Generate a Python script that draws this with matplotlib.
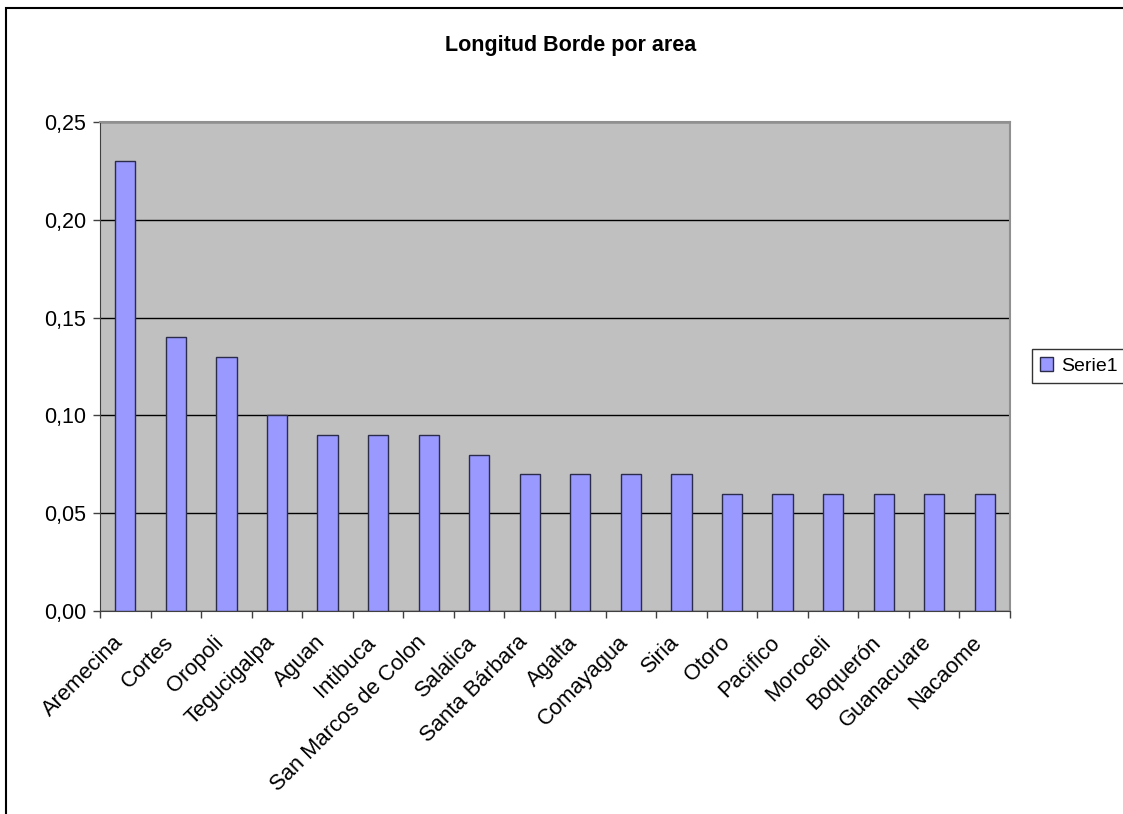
import numpy as np
import matplotlib
matplotlib.use("Agg")
import matplotlib.pyplot as plt
from matplotlib.patches import Rectangle
from matplotlib.transforms import ScaledTranslation

# %% data

areas = ["Aremecina", "Cortes", "Oropoli", "Tegucigalpa", "Aguan", "Intibuca",
         "San Marcos de Colon", "Salalica", "Santa Bárbara", "Agalta", "Comayagua",
         "Siria", "Otoro", "Pacifico", "Moroceli", "Boquerón", "Guanacuare", "Nacaome"]
longitud = [0.23, 0.14, 0.13, 0.10, 0.09, 0.09, 0.09, 0.08, 0.07, 0.07, 0.07,
            0.07, 0.06, 0.06, 0.06, 0.06, 0.06, 0.06]
y_ticks = [0.00, 0.05, 0.10, 0.15, 0.20, 0.25]
y_labels = ["0,00", "0,05", "0,10", "0,15", "0,20", "0,25"]

# %% plot

plt.rcParams['font.family'] = ['Liberation Sans', 'DejaVu Sans']

fig = plt.figure(figsize=(11.23, 8.14), dpi=100)
ax = fig.add_axes([100 / 1123, 1 - 611 / 814, 910 / 1123, 489 / 814])

x = np.arange(len(areas))
ax.bar(x, longitud, width=0.4, color="#9999FF", edgecolor="#2b2b4a",
       linewidth=1.0, label="Serie1", zorder=3)

ax.set_facecolor("#C0C0C0")
ax.set_xlim(-0.5, len(areas) - 0.5)
ax.set_ylim(0, 0.25)

ax.set_yticks(y_ticks)
ax.set_yticklabels(y_labels, fontsize=15.5)
ax.yaxis.grid(True, color="#000000", linewidth=1.0, zorder=1)
ax.set_axisbelow(True)
ax.tick_params(axis="y", length=5, width=1, color="#404040", pad=5)

ax.set_xticks(x)
ax.set_xticklabels(areas, rotation=45, ha="right", rotation_mode="anchor", fontsize=15.8)
ax.set_xticks(np.arange(len(areas) + 1) - 0.5, minor=True)
ax.tick_params(axis="x", which="major", length=0, pad=15)
ax.tick_params(axis="x", which="minor", length=5, width=1, color="#404040")
# nudge the slanted labels left, as in the original
shift = ScaledTranslation(-13 / 100, 0, fig.dpi_scale_trans)
for lab in ax.get_xticklabels():
    lab.set_transform(lab.get_transform() + shift)

for side in ["left", "bottom"]:
    ax.spines[side].set_color("#404040")
for side in ["top", "right"]:
    ax.spines[side].set_color("#909090")
    ax.spines[side].set_linewidth(1.5)

fig.text(571 / 1123, 1 - 45 / 814, "Longitud Borde por area", ha="center",
         va="center", fontsize=15.5, fontweight="bold")

leg = fig.legend(loc="center left", bbox_to_anchor=(1032 / 1123, 1 - 366 / 814),
                 fontsize=14, frameon=True, fancybox=False, handlelength=0.7,
                 handleheight=0.7, handletextpad=0.4, borderpad=0.4, borderaxespad=0)
leg.get_frame().set_edgecolor("black")
leg.get_frame().set_linewidth(1.0)

# chart area border (runs off the right and bottom edges)
fig.patches.append(Rectangle((6 / 1123, -0.1), 1.2, 1.1 - 8 / 814,
                             transform=fig.transFigure, fill=False,
                             edgecolor="black", linewidth=1.5))

fig.savefig("out.png", dpi=100)
